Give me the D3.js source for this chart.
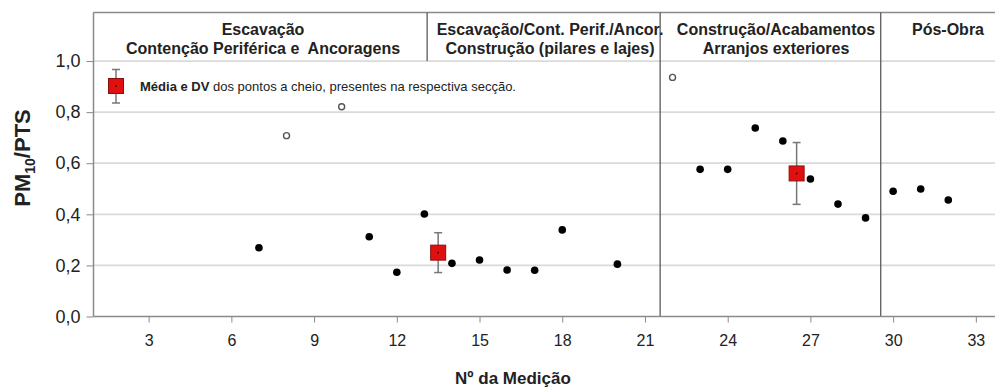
<!DOCTYPE html>
<html><head><meta charset="utf-8">
<script src="https://cdn.jsdelivr.net/npm/d3@7"></script>
<style>
html,body{margin:0;padding:0;background:#fff;}
svg{display:block;font-family:"Liberation Sans",Arial,sans-serif;}
</style></head><body>
<svg id="c" width="995" height="388"></svg>
<script>
// ---- data ----
const filledX = [7,11,12,13,14,15,16,17,18,20,23,24,25,26,27,28,29,30,31,32];
const filledY = [0.269,0.312,0.173,0.401,0.208,0.221,0.182,0.181,0.339,0.205,0.576,0.576,0.738,0.687,0.538,0.440,0.386,0.490,0.499,0.456];
const openX = [8,10,22];
const openY = [0.708,0.821,0.936];
const meanX = [13.5,26.5];
const meanY = [0.250,0.560];
const meanSD = [0.078,0.121];
const xTicks = [3,6,9,12,15,18,21,24,27,30,33];
const yTicks = [0,0.2,0.4,0.6,0.8,1.0];
const dividers = [21.55,29.55];
const headerDivider = [13.1];
const headers = [
  {cx:263, lines:["Escavação","Contenção Periférica e  Ancoragens"]},
  {cx:550, lines:["Escavação/Cont. Perif./Ancor.","Construção (pilares e lajes)"]},
  {cx:776, lines:["Construção/Acabamentos","Arranjos exteriores"]},
  {cx:948, lines:["Pós-Obra"]}
];

// ---- layout ----
const svg = d3.select("#c");
const x = d3.scaleLinear().domain([1,35]).range([93.5,1031]);
const y = d3.scaleLinear().domain([0,1.19]).range([316.5,12.5]);
const L = x(1), R = 995, T = y(1.19), B = y(0);

// gridlines
svg.append("g").selectAll("line").data(yTicks.filter(d=>d>0)).join("line")
  .attr("x1",L).attr("x2",R).attr("y1",d=>y(d)).attr("y2",d=>y(d))
  .attr("stroke","#dadada").attr("stroke-width",1.8);

// top border
svg.append("line").attr("x1",L).attr("x2",R).attr("y1",T).attr("y2",T)
  .attr("stroke","#8a8a8a").attr("stroke-width",1.5);

// section dividers
svg.append("g").selectAll("line").data(dividers).join("line")
  .attr("x1",d=>x(d)).attr("x2",d=>x(d)).attr("y1",T).attr("y2",B)
  .attr("stroke","#5a5a5a").attr("stroke-width",1.3);
svg.append("g").selectAll("line").data(headerDivider).join("line")
  .attr("x1",d=>x(d)).attr("x2",d=>x(d)).attr("y1",T).attr("y2",y(1.0))
  .attr("stroke","#5a5a5a").attr("stroke-width",1.3);

// axes
const xAxis = svg.append("g").attr("transform",`translate(0,${B})`)
  .call(d3.axisBottom(x).tickValues(xTicks).tickSize(6).tickPadding(12).tickSizeOuter(0));
xAxis.select(".domain").attr("d",`M${L},0H${R}`).attr("stroke","#8a8a8a").attr("stroke-width",1.5);
xAxis.selectAll(".tick line").attr("stroke","#8a8a8a");
xAxis.selectAll("text").attr("font-size",16).attr("fill","#222");

const yAxis = svg.append("g").attr("transform",`translate(${L},0)`)
  .call(d3.axisLeft(y).tickValues(yTicks).tickSize(7).tickPadding(6)
    .tickFormat(d=>d3.format(".1f")(d).replace(".",",")).tickSizeOuter(0));
yAxis.select(".domain").attr("d",`M0,${T}V${B}`).attr("stroke","#8a8a8a").attr("stroke-width",1.5);
yAxis.selectAll(".tick line").attr("stroke","#8a8a8a");
yAxis.selectAll("text").attr("font-size",18).attr("fill","#222");

// headers
headers.forEach(h=>{
  h.lines.forEach((t,i)=>{
    svg.append("text").attr("x",h.cx).attr("y",35+i*19)
      .attr("text-anchor","middle").attr("font-size",16).attr("font-weight","bold")
      .attr("fill","#222").style("white-space","pre").text(t);
  });
});

// open points
svg.append("g").selectAll("circle").data(openX).join("circle")
  .attr("cx",d=>x(d)).attr("cy",(d,i)=>y(openY[i])).attr("r",3)
  .attr("fill","#fff").attr("stroke","#555").attr("stroke-width",1.4);

// filled points
svg.append("g").selectAll("circle").data(filledX).join("circle")
  .attr("cx",d=>x(d)).attr("cy",(d,i)=>y(filledY[i])).attr("r",3.8)
  .attr("fill","#000");

// mean markers with SD
function meanMarker(g, cx, cy, top, bot){
  g.append("line").attr("x1",cx).attr("x2",cx).attr("y1",top).attr("y2",bot)
    .attr("stroke","#777").attr("stroke-width",1.5);
  [top,bot].forEach(v=>g.append("line").attr("x1",cx-4).attr("x2",cx+4).attr("y1",v).attr("y2",v)
    .attr("stroke","#777").attr("stroke-width",1.5));
  g.append("rect").attr("x",cx-7.5).attr("y",cy-7.5).attr("width",15).attr("height",15)
    .attr("fill","#e01010").attr("stroke","#8a1010").attr("stroke-width",1);
  g.append("circle").attr("cx",cx).attr("cy",cy).attr("r",0.9).attr("fill","#400");
}
const mg = svg.append("g");
meanX.forEach((mx,i)=>meanMarker(mg, x(mx), y(meanY[i]), y(meanY[i]+meanSD[i]), y(meanY[i]-meanSD[i])));

// legend
const lg = svg.append("g");
meanMarker(lg, 116, 86, 69.5, 103);
const lt = lg.append("text").attr("x",140).attr("y",90.5).attr("font-size",13.5).attr("fill","#222")
  .attr("font-family","'Liberation Sans Narrow','Liberation Sans',Arial,sans-serif");
lt.append("tspan").attr("font-weight","bold").text("Média e DV");
lt.append("tspan").text(" dos pontos a cheio, presentes na respectiva secção.");
lt.attr("textLength",376).attr("lengthAdjust","spacingAndGlyphs");

// axis titles
const yt = svg.append("text").attr("transform","translate(30,158) rotate(-90)")
  .attr("text-anchor","middle").attr("font-size",22).attr("font-weight","bold").attr("fill","#222");
yt.append("tspan").text("PM");
yt.append("tspan").attr("font-size",14).attr("dy",5).text("10");
yt.append("tspan").attr("dy",-5).text("/PTS");

svg.append("text").attr("x",513).attr("y",384).attr("text-anchor","middle")
  .attr("font-size",17).attr("font-weight","bold").attr("fill","#222").text("Nº da Medição");
</script>
</body></html>
